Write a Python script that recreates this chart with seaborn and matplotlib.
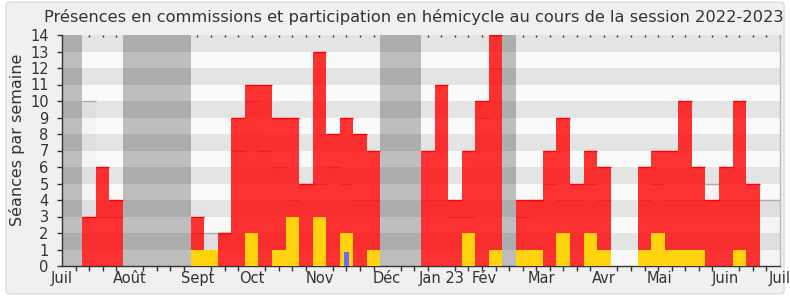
import numpy as np
import pandas as pd
import matplotlib
matplotlib.use("Agg")
import matplotlib.pyplot as plt
import seaborn as sns
from matplotlib.patches import FancyBboxPatch

# ---------------- data (one entry per week) ----------------
weeks = list(range(54))
commission = [0, 0, 3, 6, 4, 0, 0, 0, 0, 0,
              3, 0, 2, 9, 11, 11, 9, 9, 5, 13,
              8, 9, 8, 7, 0, 0, 0, 7, 11, 4,
              7, 10, 14, 0, 4, 4, 7, 9, 5, 7,
              6, 0, 0, 6, 7, 7, 10, 6, 4, 6,
              10, 5, 0, 0]
hemicycle = [0, 0, 0, 0, 0, 0, 0, 0, 0, 0,
             1, 1, 0, 0, 2, 0, 1, 3, 0, 3,
             0, 2, 0, 1, 0, 0, 0, 0, 0, 0,
             2, 0, 1, 0, 1, 1, 0, 2, 0, 2,
             1, 0, 0, 1, 2, 1, 1, 1, 0, 0,
             1, 0, 0, 0]
questions = [0] * 21 + [0.85] + [0] * 32
mediane = [0, 0, 10, 3, 3, 0, 0, 0, 0, 0,
           2, 2, 2, 7, 10, 7, 6, 4, 5, 5,
           6, 5, 4, 4, 0, 0, 0, 4, 4, 3,
           3, 9, 12, 0, 3, 4, 5, 4, 4, 5,
           4, 0, 0, 4, 5, 4, 4, 4, 5, 4,
           4, 4, 4, 4]
vacances = [1, 1, 0, 0, 0, 1, 1, 1, 1, 1,
            0, 0, 0, 0, 0, 0, 0, 0, 0, 0,
            0, 0, 0, 0, 1, 1, 1, 0, 0, 0,
            0, 0, 0, 1, 0, 0, 0, 0, 0, 0,
            0, 0, 0, 0, 0, 0, 0, 0, 0, 0,
            0, 0, 0, 0]
month_labels = ["Juil", "Août", "Sept", "Oct", "Nov", "Déc", "Jan 23",
                "Fév", "Mar", "Avr", "Mai", "Juin", "Juil"]
month_pos = [0, 5, 10, 14, 19, 24, 28, 31.2, 35.4, 40, 44.1, 49, 53]

YMAX = 14
df = pd.DataFrame({"week": weeks, "commission": commission,
                   "hemicycle": hemicycle, "questions": questions,
                   "mediane": mediane,
                   "vac": [v * YMAX for v in vacances]})

# ---------------- style ----------------
sns.set_theme(style="white")
plt.rcParams["font.family"] = ["DejaVu Sans"]
TXT = "#333333"

W, H = 790, 300
fig = plt.figure(figsize=(W / 100, H / 100), dpi=100, facecolor="white")
fig.patches.append(FancyBboxPatch((6 / W, 6 / H), 778 / W, 292 / H,
                                  boxstyle="round,pad=0,rounding_size=0.008",
                                  transform=fig.transFigure,
                                  facecolor="#f0f0f0", edgecolor="#dcdcdc",
                                  lw=1, zorder=-10))

ax = fig.add_axes([62 / W, 34 / H, 718 / W, 231 / H])
ax.set_facecolor("#fafafa")

# vacation weeks
sns.barplot(data=df, x="week", y="vac", native_scale=True, width=1,
            color="#bebebe", saturation=1, errorbar=None, linewidth=0,
            ax=ax, zorder=0.5)
# alternating stripes
for j in range(1, YMAX, 2):
    ax.axhspan(j, j + 1, color="black", alpha=0.085, lw=0, zorder=1)

# median area
sns.barplot(data=df, x="week", y="mediane", native_scale=True, width=1,
            color="#999999", saturation=1, errorbar=None, linewidth=0,
            alpha=0.06, ax=ax, zorder=2)
w = np.array(weeks, dtype=float)
m = np.array(mediane, dtype=float)
ax.hlines(m[m > 0], w[m > 0] - 0.5, w[m > 0] + 0.5, color="#aaaaaa",
          lw=1, zorder=2.5)

# commission presence
sns.barplot(data=df, x="week", y="commission", native_scale=True, width=1,
            color="#ff0000", saturation=1, errorbar=None, linewidth=0,
            alpha=0.8, ax=ax, zorder=3)
c = np.array(commission, dtype=float)
ax.hlines(c[c > 0], w[c > 0] - 0.5, w[c > 0] + 0.5, color="#ff0000",
          lw=1, zorder=3.5)

# hemicycle participation
sns.barplot(data=df, x="week", y="hemicycle", native_scale=True, width=1,
            color="#ffd30f", saturation=1, errorbar=None, linewidth=0,
            ax=ax, zorder=4)
# oral questions
sns.barplot(data=df, x="week", y="questions", native_scale=True, width=0.35,
            color="#6b6bff", saturation=1, errorbar=None, linewidth=0,
            ax=ax, zorder=5)

# ---------------- axes ----------------
ax.set_xlim(0, 53)
ax.set_ylim(0, YMAX)
ax.set_xlabel("")
ax.set_ylabel("")
ax.set_yticks(range(0, YMAX + 1))
ax.set_yticklabels([str(v) for v in range(0, YMAX + 1)], fontsize=10.5, color=TXT)
ax.set_xticks(month_pos)
ax.set_xticklabels(month_labels, fontsize=10.5, color=TXT)
ax.set_xticks(range(0, 54), minor=True)
ax.tick_params(axis="x", which="major", length=0, pad=3.5)
ax.tick_params(axis="x", which="minor", length=3.6, width=1, color="#333333",
               direction="out", bottom=True)
ax.tick_params(axis="y", length=3.6, width=1, color="#333333", pad=6,
               direction="out", left=True)
for s in ["left", "bottom"]:
    ax.spines[s].set_color("#333333")
    ax.spines[s].set_linewidth(1)
ax.spines["top"].set_visible(False)
ax.spines["right"].set_color("#bbbbbb")
ax.spines["right"].set_linewidth(1)
ax.grid(False)

top = ax.secondary_xaxis("top")
top.set_xticks(range(0, 54))
top.tick_params(direction="in", length=1.5, width=1, color="#333333",
                labeltop=False)
top.spines["top"].set_visible(False)

fig.text(413.5 / W, 1 - 17 / H,
         "Présences en commissions et participation en hémicycle au cours de la session 2022-2023",
         ha="center", va="center", fontsize=11.7, color=TXT)
fig.text(17 / W, 1 - 140 / H, "Séances par semaine", rotation=90,
         ha="center", va="center", fontsize=11.5, color=TXT)

fig.savefig("out.png", dpi=100, facecolor="white")
